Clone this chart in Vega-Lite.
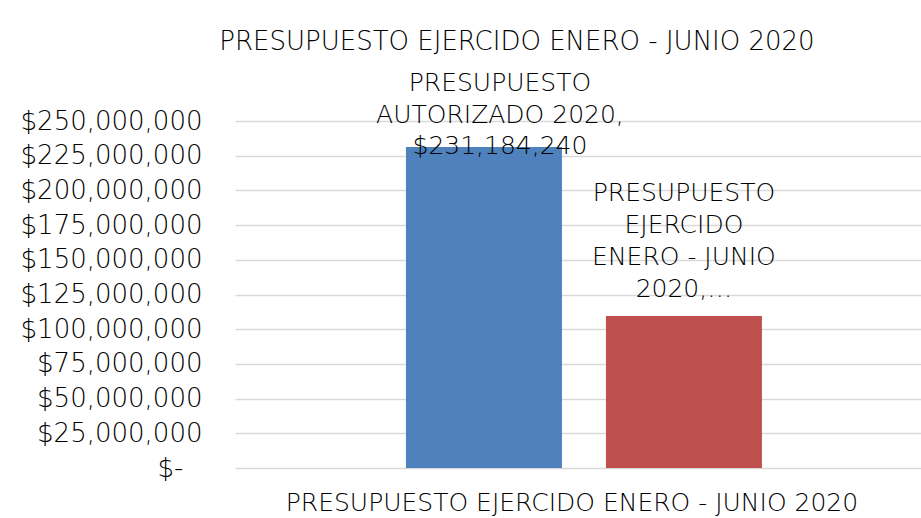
{
  "$schema": "https://vega.github.io/schema/vega-lite/v6.json",
  "autosize": {"type": "none"},
  "padding": {"left": 235, "top": 121, "right": 0, "bottom": 50},
  "width": 686,
  "height": 347,
  "background": "white",
  "title": {
    "text": "PRESUPUESTO EJERCIDO ENERO - JUNIO 2020",
    "font": "DejaVu Sans",
    "fontSize": 26,
    "fontWeight": 300,
    "color": "#000000",
    "anchor": "middle",
    "dx": -61,
    "offset": 16
  },
  "data": {
    "values": [
      {"categoria": "PRESUPUESTO EJERCIDO ENERO - JUNIO 2020", "serie": "PRESUPUESTO AUTORIZADO 2020", "monto": 231184240, "etiqueta": "PRESUPUESTO\nAUTORIZADO 2020,\n$231,184,240"},
      {"categoria": "PRESUPUESTO EJERCIDO ENERO - JUNIO 2020", "serie": "PRESUPUESTO EJERCIDO ENERO - JUNIO 2020", "monto": 109500000, "etiqueta": "PRESUPUESTO\nEJERCIDO\nENERO - JUNIO\n2020,…"}
    ]
  },
  "encoding": {
    "x": {
      "field": "categoria",
      "type": "nominal",
      "scale": {"paddingInner": 0, "paddingOuter": 0.4635, "align": 0.518},
      "axis": {
        "title": null,
        "domain": false,
        "ticks": false,
        "labelAngle": 0,
        "labelFont": "DejaVu Sans",
        "labelFontSize": 25,
        "labelFontWeight": 300,
        "labelColor": "#000000",
        "labelPadding": 22,
        "labelOffset": -12,
        "labelLimit": 800
      }
    },
    "xOffset": {
      "field": "serie",
      "type": "nominal",
      "sort": ["PRESUPUESTO AUTORIZADO 2020", "PRESUPUESTO EJERCIDO ENERO - JUNIO 2020"],
      "scale": {"paddingInner": 0.22, "paddingOuter": 0}
    },
    "y": {
      "field": "monto",
      "type": "quantitative",
      "scale": {"domain": [0, 250000000], "nice": false},
      "axis": {
        "title": null,
        "domain": false,
        "ticks": false,
        "values": [0, 25000000, 50000000, 75000000, 100000000, 125000000, 150000000, 175000000, 200000000, 225000000, 250000000],
        "labelExpr": "datum.value == 0 ? '$-' : '$' + format(datum.value, ',.0f')",
        "labelFont": "DejaVu Sans",
        "labelFontSize": 26,
        "labelFontWeight": 300,
        "labelColor": "#000000",
        "labelPadding": {"condition": {"test": "datum.value == 0", "value": 52}, "value": 33},
        "labelLimit": 400,
        "gridColor": "#d9d9d9",
        "gridWidth": 1.5
      }
    }
  },
  "layer": [
    {
      "mark": {"type": "bar"},
      "encoding": {
        "color": {
          "field": "serie",
          "type": "nominal",
          "scale": {"domain": ["PRESUPUESTO AUTORIZADO 2020", "PRESUPUESTO EJERCIDO ENERO - JUNIO 2020"], "range": ["#4F81BD", "#C0504D"]},
          "legend": null
        }
      }
    },
    {
      "transform": [{"filter": "datum.serie == 'PRESUPUESTO AUTORIZADO 2020'"}],
      "mark": {"type": "text", "lineBreak": "\n", "lineHeight": 31.5, "baseline": "alphabetic", "dy": -56, "dx": 16, "font": "DejaVu Sans", "fontSize": 25, "fontWeight": 300, "color": "#000000"},
      "encoding": {"text": {"field": "etiqueta"}}
    },
    {
      "transform": [{"filter": "datum.serie == 'PRESUPUESTO EJERCIDO ENERO - JUNIO 2020'"}],
      "mark": {"type": "text", "lineBreak": "\n", "lineHeight": 32, "baseline": "alphabetic", "dy": -115, "font": "DejaVu Sans", "fontSize": 25, "fontWeight": 300, "color": "#000000"},
      "encoding": {"text": {"field": "etiqueta"}}
    }
  ],
  "config": {"view": {"stroke": null}}
}
